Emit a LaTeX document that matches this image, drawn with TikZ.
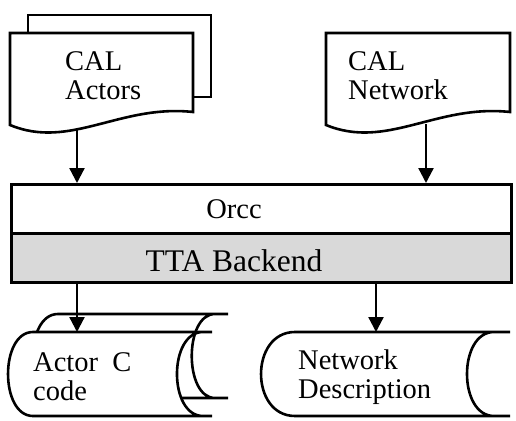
\documentclass[tikz,border=0pt]{standalone}
\usepackage{fontspec}
\setmainfont{Liberation Serif}
\usetikzlibrary{arrows.meta}
\tikzset{
  ln/.style={line width=2.6pt, line join=miter},
  doc/.style={ln, fill=white},
  arr/.style={line width=2.3pt, -{Triangle[length=15pt,width=15pt]}},
  lbl/.style={font=\fontsize{28.5}{29}\selectfont, inner sep=0pt, align=left, anchor=west},
  ctr/.style={font=\fontsize{28.5}{29}\selectfont, inner sep=0pt},
  bar/.style={ln, draw, minimum width=500pt, minimum height=49pt, inner sep=0pt, anchor=north west},
}
\begin{document}
\begin{tikzpicture}[x=1pt,y=-1pt]
\useasboundingbox (0,0) rectangle (516,420);
% main bars
\node[bar, fill=white] (orcc) at (10,183) {};
\node[bar, fill=gray!30] (tta) at (10,232) {};
\node[ctr] (orcctxt) at (234,209) {Orcc};
\node[ctr, font=\fontsize{31.5}{32}\selectfont] (ttatxt) at (234,261) {TTA Backend};
% top arrows (start hidden under the documents)
\coordinate (actOut) at (77,124);
\coordinate (netOut) at (426,124);
\draw[arr] (actOut) -- (actOut |- orcc.north);
\draw[arr] (netOut) -- (netOut |- orcc.north);
% CAL Actors (multi-document)
\draw[doc] (28,15) rectangle (211,97);
\draw[doc] (10,125) -- (10,33) -- (193,33) -- (193,112)
  .. controls (120,104) and (70,150) .. (10,125) -- cycle;
\node[lbl] (calact) at (65,76) {CAL\\Actors};
% CAL Network (document)
\draw[doc] (326,125) -- (326,33) -- (510,33) -- (510,112)
  .. controls (436,104) and (387,150) .. (326,125) -- cycle;
\node[lbl] (calnet) at (348,76) {CAL\\Network};
% Actor C code (stacked stored data)
\draw[doc] (58,314) -- (228,314) -- (215,314)
  .. controls (184,314) and (184,398) .. (215,398) -- (228,398) -- (58,398)
  .. controls (24.7,398) and (24.7,314) .. (58,314) -- cycle;
\draw[doc] (33,332) -- (212,332) -- (203,332)
  .. controls (168.3,332) and (168.3,416) .. (203,416) -- (212,416) -- (33,416)
  .. controls (-0.3,416) and (-0.3,332) .. (33,332) -- cycle;
\node[lbl] (actc) at (33,377) {Actor\ \ C\\code};
% Network Description (stored data)
\draw[doc] (295,332) -- (510,332) -- (494,332)
  .. controls (458,332) and (458,416) .. (494,416) -- (510,416) -- (295,416)
  .. controls (249.7,416) and (249.7,332) .. (295,332) -- cycle;
\node[lbl] (netdesc) at (298,377) {Network\\Description};
% bottom arrows
\coordinate (actIn) at (77,332);
\coordinate (netIn) at (376,332);
\draw[arr] (actIn |- tta.south) -- (actIn);
\draw[arr] (netIn |- tta.south) -- (netIn);
\end{tikzpicture}
\end{document}
